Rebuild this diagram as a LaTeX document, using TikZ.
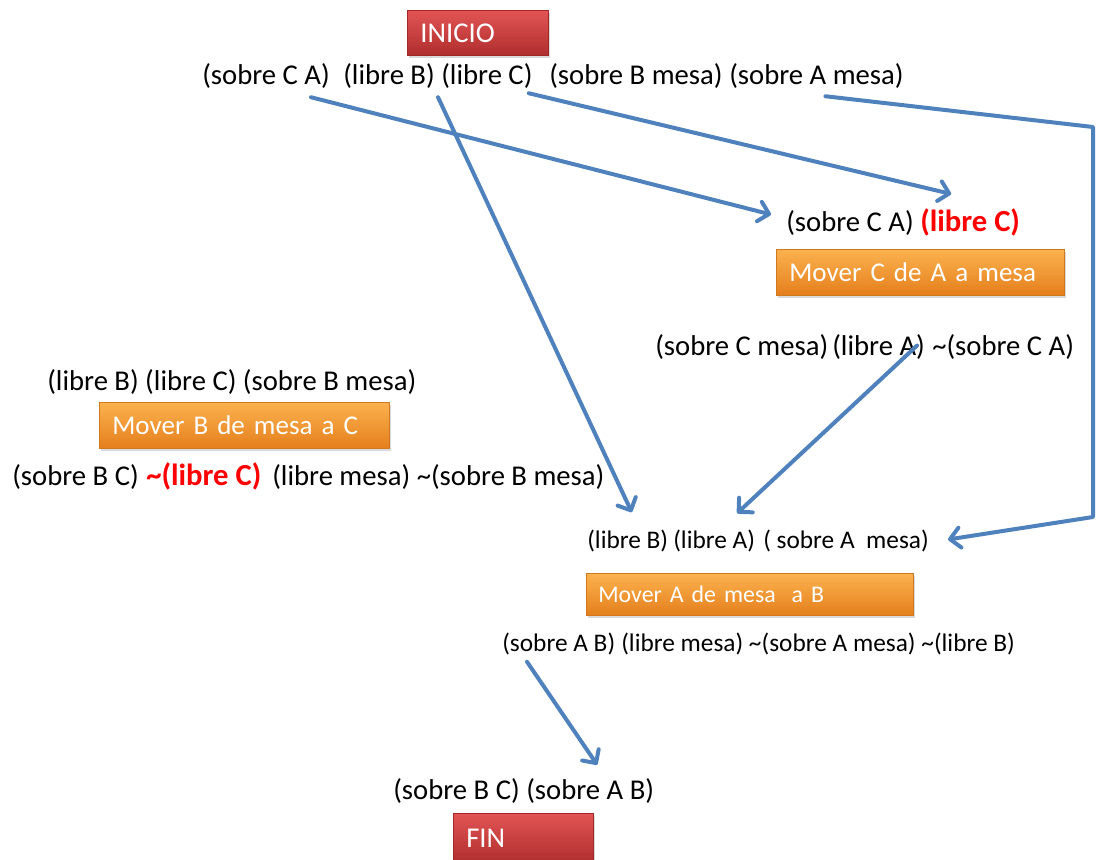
\documentclass[tikz,border=0pt]{standalone}
\usepackage{fontspec}
\setmainfont{Carlito}
\usetikzlibrary{arrows.meta,calc,shadows}

\definecolor{linkblue}{HTML}{4F81BD}
\definecolor{orangetop}{HTML}{FBB24F}
\definecolor{orangebot}{HTML}{E47F1C}
\definecolor{orangeedge}{HTML}{D2781E}
\definecolor{redtop}{HTML}{E25454}
\definecolor{redbot}{HTML}{B02E2E}
\definecolor{rededge}{HTML}{A02828}
\definecolor{alertred}{HTML}{FF0000}

\begin{document}
\begin{tikzpicture}[x=0.75pt,y=-0.75pt,
  fact/.style={anchor=base west,inner sep=0pt,font=\fontsize{21.5}{26}\selectfont},
  smallfact/.style={fact,font=\fontsize{19}{23}\selectfont},
  hotfact/.style={fact,text=alertred,font=\fontsize{23}{28}\bfseries\selectfont},
  panel/.style={anchor=north west,inner ysep=0pt,align=left,text=white,
    line width=0.5pt,drop shadow={shadow xshift=1.2pt,shadow yshift=-1.8pt,opacity=0.3}},
  actionbox/.style={panel,draw=orangeedge,top color=orangetop,bottom color=orangebot,
    inner xsep=9.75pt,font=\fontsize{20.3}{24}\selectfont},
  endbox/.style={panel,draw=rededge,top color=redtop,bottom color=redbot,
    inner xsep=9.75pt,font=\fontsize{21.5}{26}\selectfont},
  link/.style={draw=linkblue,line width=3pt,line cap=round,line join=round,
    -{Straight Barb[length=7.5pt,width=15pt,round]}}
]
\clip (0,0) rectangle (1110,860);

% start state
\node[endbox,text width=86.25pt,minimum height=33.75pt] (inicio) at (407,10) {INICIO};
\node[fact] (t1) at (202,84) {(sobre C A)};
\node[fact] (t2) at (343,84) {(libre B)};
\node[fact] (t3) at (441,84) {(libre C)};
\node[fact] (t4) at (549,84) {(sobre B mesa)};
\node[fact] (t5) at (729,84) {(sobre A mesa)};

% action: move C from A to the table
\node[fact] (r1) at (786,231) {(sobre C A)};
\node[hotfact] (r2) at (920,231) {(libre C)};
\node[actionbox,text width=196.5pt,minimum height=34.5pt] (movC) at (776,249) {Mover C de A a mesa};
\node[fact] (r3a) at (655,355) {(sobre C mesa)};
\node[fact] (r3b) at (832,355) {(libre A)};
\node[fact] (r3c) at (932,355) {\char`\~(sobre C A)};

% action: move B from the table onto C
\node[fact] (l1) at (47,390) {(libre B) (libre C) (sobre B mesa)};
\node[actionbox,text width=198pt,minimum height=34.5pt] (movB) at (99,402) {Mover B de mesa a C};
\node[fact] (l2a) at (12,485) {(sobre B C)};
\node[hotfact] (l2b) at (146,485) {\char`\~(libre C)};
\node[fact] (l2c) at (272,485) {(libre mesa) \char`\~(sobre B mesa)};

% action: move A from the table onto B
\node[smallfact] (m1) at (587,548) {(libre B)};
\node[smallfact] (m2) at (673,548) {(libre A)};
\node[smallfact] (m3) at (763,548) {( sobre A~ mesa)};
\node[actionbox,text width=227.25pt,minimum height=31.5pt,inner xsep=9pt,
  font=\fontsize{17.9}{22}\selectfont] (movA) at (586,573) {Mover A de mesa~ a B};
\node[smallfact] (m4a) at (502,651) {(sobre A B)};
\node[smallfact] (m4b) at (621,651) {(libre mesa) \char`\~(sobre A mesa) \char`\~(libre B)};

% goal state
\node[fact] (f1) at (393,799) {(sobre B C)};
\node[fact] (f2) at (526,799) {(sobre A B)};
\node[endbox,text width=85.5pt,minimum height=37.5pt] (fin) at (453,813) {FIN};

% bends of the long connector on the right
\coordinate (bendTop) at (1093,127);
\coordinate (bendBot) at (1093,517);

% connectors
\draw[link] ($(t1.south east)+(-19,9)$) -- ($(r1.west)+(-15,-8)$);
\draw[link] ($(t2.south east)!0.5!(t3.south west)+(0,9)$) -- ($(m1.north)+(4,-17)$);
\draw[link] ($(t3.south east)+(-4,5)$) -- ($(r2.north)+(-19,-14)$);
\draw[link] ($(t5.south)+(9,8)$) -- (bendTop) -- (bendBot) -- ($(m3.east)+(19,-1)$);
\draw[link] ($(r3b.east)+(-8,-1)$) -- ($(m2.north)+(23,-16)$);
\draw[link] ($(m4a.south west)+(25,7)$) -- ($(f2.north)+(7,-13)$);
\end{tikzpicture}
\end{document}
